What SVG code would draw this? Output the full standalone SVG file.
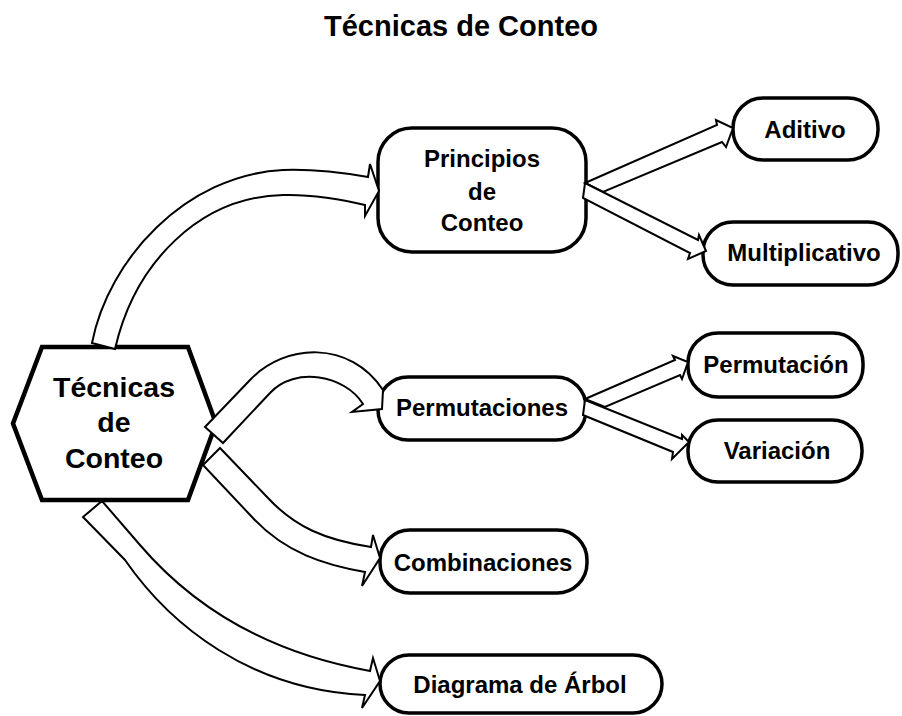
<svg xmlns="http://www.w3.org/2000/svg" width="902" height="716" viewBox="0 0 902 716">
<style>
text{font-family:"Liberation Sans",Arial,Helvetica,sans-serif;font-weight:bold;fill:#000;text-anchor:middle}
.t{font-size:29px}
.hx{font-size:28.5px}
.lb{font-size:24px}
.box{fill:#fff;stroke:#000;stroke-width:3.5}
.hex{fill:#fff;stroke:#000;stroke-width:4.5;stroke-linejoin:miter}
.ar{fill:#fff;stroke:#000;stroke-width:2;stroke-linejoin:miter}
</style>
<rect width="902" height="716" fill="#fff"/>
<text class="t" x="461" y="36">Técnicas de Conteo</text>

<g id="tecnicas">
<polygon class="hex" points="42,347 188,347 216,423.5 188,500 42,500 13,423.5"/>
<text class="hx" x="114" y="397">Técnicas</text>
<text class="hx" x="114" y="432">de</text>
<text class="hx" x="114" y="468">Conteo</text>
</g>
<g id="principios">
<rect class="box" x="378" y="128" width="208" height="124" rx="34"/>
<text class="lb" x="482" y="167">Principios</text>
<text class="lb" x="482" y="200">de</text>
<text class="lb" x="482" y="231">Conteo</text>
</g>
<g id="aditivo">
<rect class="box" x="733" y="98" width="145" height="62" rx="30"/>
<text class="lb" x="805" y="138">Aditivo</text>
</g>
<g id="multiplicativo">
<rect class="box" x="703" y="222" width="195" height="63" rx="30"/>
<text class="lb" x="804" y="261">Multiplicativo</text>
</g>
<g id="permutaciones">
<rect class="box" x="378" y="377" width="208" height="63" rx="30"/>
<text class="lb" x="482" y="416">Permutaciones</text>
</g>
<g id="permutacion">
<rect class="box" x="688" y="333" width="175" height="64" rx="30"/>
<text class="lb" x="776" y="373">Permutación</text>
</g>
<g id="variacion">
<rect class="box" x="688" y="420" width="174" height="62" rx="30"/>
<text class="lb" x="777" y="459">Variación</text>
</g>
<g id="combinaciones">
<rect class="box" x="380" y="530" width="207" height="63" rx="30"/>
<text class="lb" x="483" y="571">Combinaciones</text>
</g>
<g id="diagrama">
<rect class="box" x="380" y="655" width="282" height="58" rx="29"/>
<text class="lb" x="520" y="693">Diagrama de Árbol</text>
</g>

<g id="connectors">
<path class="ar" d="M92,343 C108,260 185,175 283,170 C310,169 345,173 368,177 L370,164 L379,191 L365,216 L365,205 C345,200 310,194 283,195 C200,197 135,262 115,349 Z"/>
<path class="ar" d="M205,427 L250,380 C285,343 350,340 383,390 L382,409 L352,412 L363,404 C345,375 295,366 270,393 L223,443 Z"/>
<path class="ar" d="M220,448 L268,498 C295,527 325,540 371,547 L373,535 L380,558 L362,586 L365,572 C325,565 285,553 252,517 L203,465 Z"/>
<path class="ar" d="M102,501 L140,545 C200,615 280,655 370,671 L373,658 L380,681 L362,708 L365,695 C250,690 170,625 125,560 L83,517 Z"/>
<path class="ar" d="M585,183 L717,125 L716,120 L733,128 L726,147 L722,142 L603,192 Z"/>
<path class="ar" d="M585,183 L698,240 L699,235 L706,251 L688,259 L690,253 L583,198 Z"/>
<path class="ar" d="M585,399 L675,360 L673,356 L688,362 L682,379 L680,375 L605,407 Z"/>
<path class="ar" d="M585,400 L682,439 L682,435 L689,442 L672,459 L673,452 L583,415 Z"/>
</g>
</svg>
